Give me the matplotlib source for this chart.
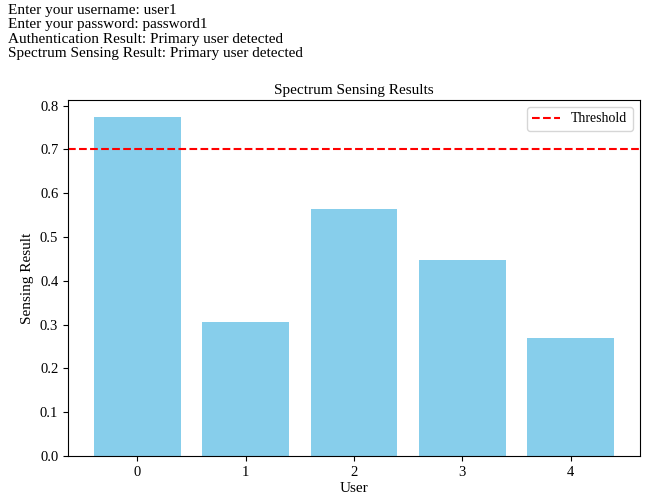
import numpy as np
import matplotlib.pyplot as plt

plt.rcParams['font.family'] = ['Liberation Serif', 'DejaVu Serif']

# Console output shown above the chart
console_lines = [
    "Enter your username: user1",
    "Enter your password: password1",
    "Authentication Result: Primary user detected",
    "Spectrum Sensing Result: Primary user detected",
]

users = [0, 1, 2, 3, 4]
sensing_results = [0.774, 0.305, 0.563, 0.448, 0.269]
threshold = 0.7

fig = plt.figure(figsize=(6.51, 5.01), dpi=100)

for i, line in enumerate(console_lines):
    fig.text(0.012, 0.992 - i * 0.0285, line, fontsize=11, va='top', ha='left')

ax = fig.add_axes([68 / 651, 1 - 456 / 501, 572 / 651, 356 / 501])
ax.bar(users, sensing_results, color='skyblue')
ax.axhline(threshold, color='red', linestyle='--', label='Threshold')

ax.set_title('Spectrum Sensing Results', fontsize=11, pad=4)
ax.set_xlabel('User', fontsize=11, labelpad=2)
ax.set_ylabel('Sensing Result', fontsize=11)
ax.set_xticks(users)
ax.tick_params(labelsize=10.5)
ax.legend(loc='upper right', fontsize=10)

plt.savefig('out.png', dpi=100)
